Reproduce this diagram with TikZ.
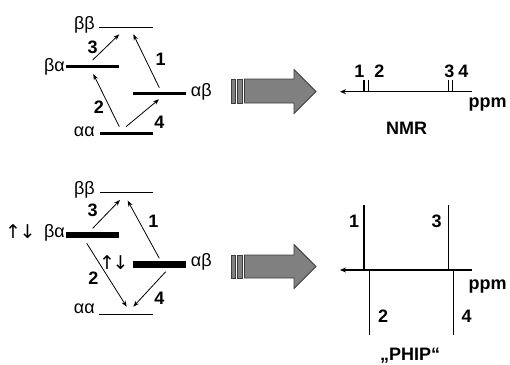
\documentclass[tikz,border=0pt]{standalone}
\usepackage{fontspec}
\setmainfont{Liberation Sans}
\newfontfamily\arrowfont{DejaVu Sans}
\usetikzlibrary{arrows.meta}
\definecolor{blockfill}{RGB}{128,128,128}
\definecolor{blockedge}{RGB}{60,60,60}
\begin{document}
\begin{tikzpicture}[x=1pt,y=-1pt,
  num/.style={font=\bfseries\fontsize{18}{18}\selectfont, inner sep=0pt},
  greek/.style={font=\fontsize{18}{18}\selectfont, inner sep=0pt},
  spins/.style={font=\arrowfont\fontsize{19}{19}\selectfont, inner sep=0pt},
  thinlvl/.style={line width=1pt},
  thicklvl/.style={line width=3pt},
  heavylvl/.style={line width=6.5pt},
  trans/.style={line width=0.8pt,-{Stealth[length=6pt,width=4.5pt]}},
  axis/.style={line width=1.5pt,-{Stealth[length=6pt,width=5pt]}},
  tick/.style={line width=1.2pt},
  peak/.style={line width=1.5pt},
  blockarrow/.style={fill=blockfill, draw=blockedge, line width=0.8pt}
]
\useasboundingbox (0,0) rectangle (510,364);

% ================= TOP: thermal =================
% levels
\coordinate (tBBl) at (99,27.3);  \coordinate (tBBr) at (153,27.3);
\coordinate (tBAl) at (66,66.7);  \coordinate (tBAr) at (119,66.7);
\coordinate (tABl) at (133,93.3); \coordinate (tABr) at (186,93.3);
\coordinate (tAAl) at (100,133.3);\coordinate (tAAr) at (153,133.3);
\draw[thinlvl]  (tBBl) -- (tBBr);
\draw[thicklvl] (tBAl) -- (tBAr);
\draw[thicklvl] (tABl) -- (tABr);
\draw[thicklvl] (tAAl) -- (tAAr);
\node[greek, anchor=base east] (tlBB) at (95,29) {ββ};
\node[greek, anchor=base east] (tlBA) at (65,71.5) {βα};
\node[greek, anchor=base west] (tlAB) at (190.7,96.5) {αβ};
\node[greek, anchor=base east] (tlAA) at (95,136.5) {αα};
% transitions
\coordinate (t3s) at (92.7,60);   \coordinate (t3e) at (119.3,34.3);
\coordinate (t1s) at (159.3,87.7);\coordinate (t1e) at (133.3,34.3);
\coordinate (t2s) at (119.3,126.7);\coordinate (t2e) at (93.3,74);
\coordinate (t4s) at (126,126.7); \coordinate (t4e) at (159,99.3);
\draw[trans] (t3s) -- (t3e);
\draw[trans] (t1s) -- (t1e);
\draw[trans] (t2s) -- (t2e);
\draw[trans] (t4s) -- (t4e);
\node[num] (tn3) at (92.7,47.7) {3};
\node[num] (tn1) at (160.7,59.5) {1};
\node[num] (tn2) at (99,107.3) {2};
\node[num] (tn4) at (159.3,122.3) {4};

% block arrow top
\draw[blockarrow] (231,79) rectangle (235,103);
\draw[blockarrow] (237.5,79) rectangle (242,103);
\draw[blockarrow] (244.5,79) -- (294,79) -- (294,69.5) -- (316,91.5) -- (294,113.5) -- (294,103) -- (244.5,103) -- cycle;

% NMR spectrum
\coordinate (nR) at (472,91.7); \coordinate (nL) at (340,91.7);
\draw[axis] (nR) -- (nL);
\foreach \x/\n in {364/a,368.7/b,448.3/c,452.7/d}{
  \coordinate (nt\n) at (\x,80);
  \draw[tick] (\x,91.7) -- (nt\n);
}
\node[num] (nn1) at (359.3,71.7) {1};
\node[num] (nn2) at (379.3,71.7) {2};
\node[num] (nn3) at (449.3,71.7) {3};
\node[num] (nn4) at (463.3,71.7) {4};
\node[num, anchor=base] (nppm) at (487.5,107.8) {ppm};
\node[num] (nmr) at (406.7,128.3) {NMR};

% ================= BOTTOM: PHIP =================
\coordinate (bBBl) at (100,192.7); \coordinate (bBBr) at (153,192.7);
\coordinate (bBAl) at (66,235);    \coordinate (bBAr) at (119,235);
\coordinate (bABl) at (132.5,264.5); \coordinate (bABr) at (185.7,264.5);
\coordinate (bAAl) at (99,314.3);  \coordinate (bAAr) at (153,314.3);
\draw[thinlvl]  (bBBl) -- (bBBr);
\draw[heavylvl] (bBAl) -- (bBAr);
\draw[heavylvl] (bABl) -- (bABr);
\draw[thinlvl]  (bAAl) -- (bAAr);
\node[greek, anchor=base east] (blBB) at (95,194.5) {ββ};
\node[greek, anchor=base east] (blBA) at (65,237) {βα};
\node[greek, anchor=base west] (blAB) at (190.7,266.7) {αβ};
\node[greek, anchor=base east] (blAA) at (95,313.5) {αα};
\node[spins, anchor=base west] (bsBA) at (5,238.5) {↑\kern-1.5pt↓};
\node[spins, anchor=base west] (bsAB) at (99,269.5) {↑\kern-2.5pt↓};
% transitions
\coordinate (b3s) at (92.7,228.3);  \coordinate (b3e) at (120,200);
\coordinate (b1s) at (159.3,258.3); \coordinate (b1e) at (127.7,200.7);
\coordinate (b2s) at (86.7,243.3);  \coordinate (b2e) at (126.7,306.7);
\coordinate (b4s) at (165.7,271.7); \coordinate (b4e) at (133.3,306.7);
\draw[trans] (b3s) -- (b3e);
\draw[trans] (b1s) -- (b1e);
\draw[trans] (b2s) -- (b2e);
\draw[trans] (b4s) -- (b4e);
\node[num] (bn3) at (92.7,210) {3};
\node[num] (bn1) at (153.3,221.7) {1};
\node[num] (bn2) at (93.3,278.3) {2};
\node[num] (bn4) at (159.3,298.3) {4};

% block arrow bottom
\draw[blockarrow] (231,255) rectangle (235,278);
\draw[blockarrow] (237.5,255) rectangle (242,278);
\draw[blockarrow] (244.5,255) -- (294,255) -- (294,244.5) -- (316,266.5) -- (294,288.5) -- (294,278) -- (244.5,278) -- cycle;

% PHIP spectrum
\coordinate (pR) at (472,270); \coordinate (pL) at (340,270);
\draw[axis] (pR) -- (pL);
\coordinate (p1b) at (364,270);   \coordinate (p1t) at (364,205);
\coordinate (p3b) at (448.3,270); \coordinate (p3t) at (448.3,205);
\coordinate (p2b) at (369.3,270); \coordinate (p2t) at (369.3,335);
\coordinate (p4b) at (453.3,270); \coordinate (p4t) at (453.3,335);
\draw[peak] (p1b) -- (p1t);
\draw[peak] (p3b) -- (p3t);
\draw[peak] (p2b) -- (p2t);
\draw[peak] (p4b) -- (p4t);
\node[num] (pn1) at (354,221) {1};
\node[num] (pn3) at (436.7,221) {3};
\node[num] (pn2) at (383,315.8) {2};
\node[num] (pn4) at (466.7,316) {4};
\node[num, anchor=base] (pppm) at (487.5,289.4) {ppm};
\node[num, anchor=base] (phip) at (410,360.5) {„PHIP“};
\end{tikzpicture}
\end{document}
